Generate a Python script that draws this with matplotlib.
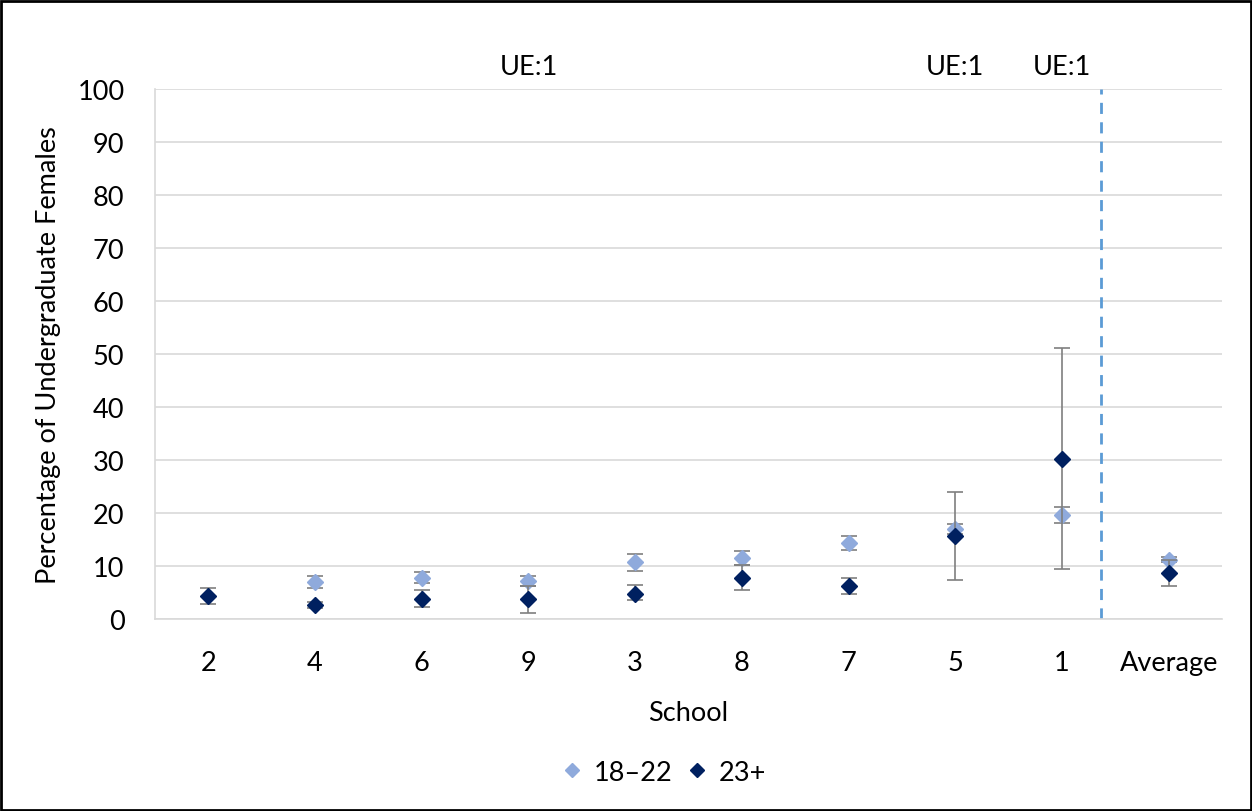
import numpy as np
import matplotlib.pyplot as plt
from matplotlib.lines import Line2D
from matplotlib.patches import Rectangle
import matplotlib.transforms as mtransforms

plt.rcParams['font.family'] = ['Lato', 'DejaVu Sans']

schools = ['2', '4', '6', '9', '3', '8', '7', '5', '1', 'Average']
ue_labels = {'9': 'UE:1', '5': 'UE:1', '1': 'UE:1'}

young = [np.nan, 7.0, 7.7, 7.2, 10.7, 11.5, 14.3, 17.0, 19.6, 11.2]
young_lo = [np.nan, 1.2, 1.0, 1.0, 1.6, 1.4, 1.3, 1.0, 1.4, 0.5]
young_hi = [np.nan, 1.2, 1.2, 0.9, 1.6, 1.4, 1.3, 1.0, 1.5, 0.5]

older = [4.3, 2.6, 3.8, 3.8, 4.7, 7.7, 6.3, 15.7, 30.2, 8.7]
older_lo = [1.5, 0.6, 1.5, 2.7, 1.2, 2.2, 1.6, 8.3, 20.8, 2.5]
older_hi = [1.5, 0.6, 1.7, 2.4, 1.7, 2.4, 1.5, 8.3, 20.9, 2.5]

light = '#8faadc'
dark = '#002060'
err_col = '#7f7f7f'

fig = plt.figure(figsize=(12.52, 8.12), dpi=100)
ax = fig.add_axes([155 / 1252, 192 / 812, 1067 / 1252, 530 / 812])
x = np.arange(len(schools))

ax.errorbar(x, young, yerr=[young_lo, young_hi], fmt='none', ecolor=err_col,
            elinewidth=1.2, capsize=6, capthick=1.2, zorder=3)
ax.plot(x, young, 'D', color=light, ms=8.5, ls='none', zorder=4)
ax.errorbar(x, older, yerr=[older_lo, older_hi], fmt='none', ecolor=err_col,
            elinewidth=1.2, capsize=6, capthick=1.2, zorder=5)
ax.plot(x, older, 'D', color=dark, ms=8.5, ls='none', zorder=6)

ax.axvline(8.37, color='#5b9bd5', ls=(0, (4, 3)), lw=2, zorder=2)

ax.set_xlim(-0.5, len(schools) - 0.5)
ax.set_ylim(0, 100)
ax.set_yticks(range(0, 101, 10))
ax.set_xticks(x)
ax.set_xticklabels(schools)
ax.yaxis.grid(True, color='#d9d9d9', lw=1.2)
ax.set_axisbelow(True)
for s in ['top', 'right']:
    ax.spines[s].set_visible(False)
for s in ['left', 'bottom']:
    ax.spines[s].set_color('#d9d9d9')
    ax.spines[s].set_linewidth(1.2)
ax.tick_params(length=0, labelsize=19.5, colors='black')
ax.tick_params(axis='y', pad=22)
ax.tick_params(axis='x', pad=22)
ax.set_xlabel('School', fontsize=19.5, labelpad=18)
ax.set_ylabel('Percentage of Undergraduate Females', fontsize=19.5, labelpad=12)

trans = mtransforms.blended_transform_factory(ax.transData, ax.transAxes)
for i, s in enumerate(schools):
    if s in ue_labels:
        ax.text(i, 1.042, ue_labels[s], transform=trans, ha='center', va='center',
                fontsize=19.5, clip_on=False)

handles = [Line2D([], [], marker='D', color=light, ls='none', ms=7.5),
           Line2D([], [], marker='D', color=dark, ls='none', ms=7.5)]
fig.legend(handles, ['18\u201322', '23+'], loc='center', bbox_to_anchor=(0.529, 0.048),
           ncol=2, frameon=False, fontsize=19.5, handletextpad=0.3, columnspacing=0.4,
           handlelength=1.0)

fig.add_artist(Rectangle((0.001, 0.001), 0.998, 0.997, transform=fig.transFigure,
                         fill=False, edgecolor='black', lw=2))

fig.savefig('out.png', dpi=100)
